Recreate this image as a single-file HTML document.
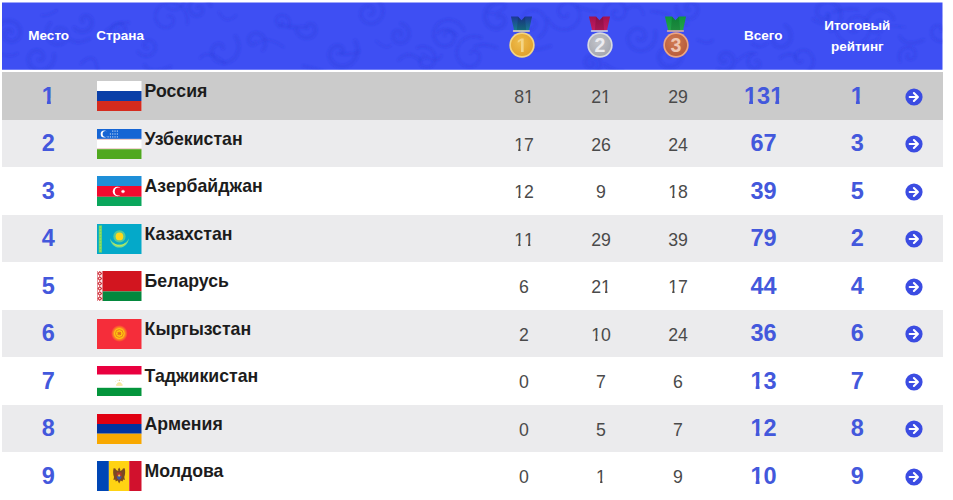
<!DOCTYPE html>
<html lang="ru"><head><meta charset="utf-8"><title>Медальный зачёт</title>
<style>
html,body{margin:0;padding:0;background:#fff;}
body{width:953px;height:500px;overflow:hidden;position:relative;font-family:"Liberation Sans",sans-serif;}
.hdr{position:absolute;left:2px;top:2px;width:940.5px;height:67.7px;background:#3e4ff3;overflow:hidden;clip-path:inset(0.5px 0 0 0);}
.hdr svg.bg{position:absolute;left:0;top:0;}
.h{position:absolute;color:#fff;font-weight:bold;font-size:13.5px;line-height:16px;text-align:center;white-space:nowrap;}
.medal{position:absolute;display:block;width:28px;height:46px;}
.medal svg{display:block;}
.row{position:absolute;left:2px;width:940.5px;background:#fff;}
.row.alt{background:#ebebed;}
.row.hov{background:#cbcbcb;}
.in{position:absolute;left:0;width:100%;height:46px;}
.rank{position:absolute;left:16.3px;width:60px;top:9.5px;text-align:center;font-weight:bold;font-size:23.5px;line-height:26px;color:#4358dc;}
.flag{position:absolute;left:95px;top:7.8px;width:44.5px;height:30px;display:block;}
.flag svg{display:block;}
.name{position:absolute;left:142.6px;top:7.6px;font-weight:bold;font-size:17.7px;line-height:21px;color:#1c1c1c;white-space:nowrap;}
.num{position:absolute;width:60px;top:13.6px;text-align:center;font-size:17.7px;line-height:21px;color:#4a4a4a;}
.tot{position:absolute;width:80px;top:9.5px;text-align:center;font-weight:bold;font-size:23.5px;line-height:26px;color:#4358dc;}
.go{position:absolute;left:903.2px;top:14.1px;width:18px;height:18px;display:block;}
.go svg{display:block;}
.o{display:inline-block;clip-path:polygon(0 0,100% 0,100% 0.64em,0.385em 0.64em,0.385em 100%,0.22em 100%,0.22em 0.64em,0 0.64em);}
.p{display:inline-block;clip-path:polygon(0 0,100% 0,100% 0.64em,0.362em 0.64em,0.362em 100%,0.228em 100%,0.228em 0.64em,0 0.64em);}
</style></head>
<body>
<div class="hdr">
<svg class="bg" width="941" height="68" viewBox="0 0 941 68"><defs><filter id="sb" x="-5%" y="-20%" width="110%" height="140%"><feGaussianBlur stdDeviation="0.9"/></filter></defs><g fill="none" stroke="#2536d6" stroke-opacity="0.24" stroke-linecap="round" filter="url(#sb)"><path d="M-6.5 35.9 L-6.8 33.2 L-6.6 30.6 L-6.0 28.1 L-5.0 25.8 L-3.6 23.8 L-2.0 22.0 L-0.0 20.7 L2.1 19.6 L4.3 19.0 L6.5 18.8 L8.7 19.0 L10.8 19.6 L12.7 20.5 L14.4 21.7 L15.8 23.1 L16.9 24.8 L17.7 26.6 L18.1 28.4 L18.2 30.2 L18.0 32.0 L17.5 33.7 L16.7 35.2 L15.7 36.5 L14.4 37.6 L13.1 38.4 L11.7 39.0 L10.2 39.3 L8.8 39.3 L7.4 39.0 L6.1 38.6 L5.0 37.9 L4.0 37.0 L3.3 36.1 L2.7 35.0 L2.4 33.9 L2.3 32.9 L2.4 31.8 L2.6 30.8 L3.0 30.0 L3.6 29.2 L4.2 28.6 L4.9 28.2 L5.7 27.9 L6.4 27.8 L7.1 27.8 L7.8 28.0 L8.3 28.2 L8.8 28.6 L9.1 29.0 L9.4 29.4 L9.5 29.9 L9.5 30.3" stroke-width="4.3"/><path d="M-0.7 52.2q10.8 3.2 16.2 -0.9" stroke-width="2.1"/><path d="M52.2 52.3 L52.3 55.1 L51.9 57.8 L51.0 60.3 L49.7 62.6 L48.1 64.6 L46.2 66.3 L44.0 67.5 L41.8 68.3 L39.4 68.7 L37.1 68.7 L34.9 68.3 L32.9 67.5 L31.0 66.4 L29.5 65.0 L28.2 63.4 L27.3 61.7 L26.7 59.8 L26.5 58.0 L26.6 56.2 L27.0 54.5 L27.7 52.9 L28.6 51.5 L29.7 50.4 L31.0 49.5 L32.4 48.9 L33.8 48.5 L35.1 48.5 L36.5 48.6 L37.7 49.0 L38.8 49.6 L39.7 50.4 L40.4 51.2 L40.9 52.1 L41.2 53.1 L41.3 54.1 L41.3 55.0 L41.0 55.8 L40.7 56.5 L40.2 57.1 L39.6 57.6 L39.1 57.9 L38.5 58.0 L37.9 58.1 L37.4 58.0 L37.0 57.7" stroke-width="3.8"/><path d="M39.9 13.4q6.2 0.8 14.7 -5.0" stroke-width="2.2"/><path d="M48.3 21.3 L46.7 23.2 L45.5 25.3 L44.8 27.5 L44.4 29.8 L44.5 32.0 L44.9 34.2 L45.7 36.2 L46.9 38.0 L48.3 39.6 L49.9 40.8 L51.7 41.7 L53.6 42.3 L55.5 42.5 L57.3 42.4 L59.1 42.0 L60.7 41.2 L62.2 40.2 L63.4 39.0 L64.4 37.7 L65.0 36.2 L65.4 34.7 L65.5 33.1 L65.3 31.6 L64.9 30.3 L64.3 29.0 L63.4 27.9 L62.4 27.0 L61.3 26.4 L60.2 25.9 L59.0 25.7 L57.8 25.7 L56.7 25.9 L55.7 26.3 L54.9 26.9 L54.1 27.6 L53.6 28.3 L53.2 29.1 L53.0 30.0 L52.9 30.8 L53.0 31.6 L53.3 32.3 L53.6 32.9 L54.0 33.4 L54.5 33.8 L55.1 34.0 L55.6 34.1 L56.1 34.2 L56.6 34.1 L56.9 33.9 L57.3 33.6" stroke-width="3.4"/><path d="M61.6 31.4q8.8 13.9 25.9 5.4" stroke-width="3.1"/><path d="M72.3 26.0 L73.9 27.4 L75.8 28.5 L77.7 29.2 L79.7 29.5 L81.7 29.4 L83.5 29.0 L85.2 28.3 L86.7 27.3 L87.9 26.1 L88.9 24.8 L89.5 23.3 L89.9 21.8 L90.0 20.3 L89.8 18.9 L89.3 17.6 L88.7 16.4 L87.9 15.5 L86.9 14.7 L85.9 14.2 L84.9 13.9 L83.8 13.8 L82.8 13.9 L82.0 14.2 L81.2 14.6 L80.6 15.1 L80.1 15.7 L79.8 16.4 L79.7 17.0 L79.7 17.7 L79.8 18.2 L80.0 18.7 L80.4 19.0 L80.7 19.2" stroke-width="4.2"/><path d="M79.0 61.5q14.5 -14.0 16.5 6.6" stroke-width="2.6"/><path d="M112.7 36.6 L111.5 35.5 L110.4 34.1 L109.7 32.6 L109.2 31.0 L109.1 29.4 L109.2 27.9 L109.6 26.4 L110.2 25.0 L111.1 23.8 L112.1 22.8 L113.3 22.1 L114.5 21.5 L115.8 21.2 L117.1 21.2 L118.4 21.3 L119.5 21.7 L120.6 22.3 L121.5 23.1 L122.2 23.9 L122.8 24.9 L123.1 25.9 L123.3 26.9 L123.2 27.9 L123.0 28.8 L122.6 29.7 L122.1 30.4 L121.5 31.1 L120.8 31.5 L120.1 31.8 L119.4 32.0 L118.6 32.0 L117.9 31.9 L117.3 31.7 L116.8 31.4 L116.3 31.0 L116.0 30.5 L115.8 30.0 L115.7 29.5 L115.6 29.1 L115.7 28.6 L115.9 28.2 L116.1 27.9 L116.4 27.7 L116.7 27.6 L116.9 27.5" stroke-width="2.9"/><path d="M104.3 28.6q15.2 -10.2 22.5 -7.8" stroke-width="2.6"/><path d="M136.0 49.6 L137.2 51.1 L138.7 52.3 L140.3 53.1 L142.1 53.7 L143.8 54.0 L145.6 53.9 L147.2 53.5 L148.8 52.9 L150.1 52.0 L151.3 50.9 L152.2 49.7 L152.9 48.3 L153.3 46.9 L153.4 45.5 L153.3 44.1 L152.9 42.8 L152.4 41.6 L151.6 40.6 L150.7 39.8 L149.7 39.1 L148.7 38.7 L147.6 38.4 L146.5 38.4 L145.5 38.6 L144.5 38.9 L143.7 39.4 L143.0 40.0 L142.5 40.7 L142.1 41.4 L141.8 42.2 L141.8 42.9 L141.8 43.7 L142.0 44.3 L142.3 44.9 L142.7 45.4 L143.2 45.8 L143.6 46.0 L144.1 46.2 L144.6 46.2 L145.0 46.1 L145.4 46.0 L145.7 45.7 L145.9 45.5" stroke-width="3.1"/><path d="M142.7 63.4q6.0 10.2 25.7 1.5" stroke-width="3.6"/><path d="M185.2 21.7 L185.4 18.2 L185.0 14.8 L184.1 11.6 L182.6 8.7 L180.6 6.1 L178.3 4.0 L175.7 2.3 L172.9 1.2 L170.0 0.6 L167.1 0.5 L164.3 0.9 L161.7 1.8 L159.4 3.1 L157.4 4.8 L155.8 6.7 L154.5 8.9 L153.7 11.2 L153.4 13.5 L153.4 15.7 L153.9 17.9 L154.7 19.9 L155.8 21.6 L157.2 23.1 L158.7 24.2 L160.4 25.1 L162.1 25.5 L163.9 25.7 L165.5 25.5 L167.1 25.1 L168.4 24.4 L169.6 23.5 L170.5 22.4 L171.2 21.2 L171.6 20.0 L171.8 18.8 L171.7 17.7 L171.4 16.7 L171.0 15.8 L170.4 15.0 L169.8 14.4 L169.0 14.0 L168.3 13.8 L167.6 13.8 L166.9 13.9 L166.4 14.1" stroke-width="2.6"/><path d="M164.3 4.6q12.1 9.2 18.6 -6.8" stroke-width="2.2"/><path d="M208.7 3.5 L207.7 1.4 L206.4 -0.4 L204.7 -1.9 L202.9 -3.1 L200.9 -3.9 L198.9 -4.3 L196.9 -4.4 L194.9 -4.1 L193.1 -3.4 L191.4 -2.5 L190.0 -1.3 L188.8 0.1 L187.9 1.6 L187.4 3.2 L187.1 4.9 L187.2 6.5 L187.5 8.1 L188.1 9.5 L188.9 10.8 L189.9 11.8 L191.1 12.7 L192.3 13.2 L193.6 13.6 L194.8 13.7 L196.1 13.5 L197.2 13.2 L198.2 12.7 L199.1 12.0 L199.8 11.2 L200.3 10.3 L200.6 9.4 L200.7 8.5 L200.7 7.6 L200.5 6.8 L200.2 6.1 L199.7 5.4 L199.2 5.0 L198.6 4.6 L198.0 4.4 L197.4 4.4 L196.9 4.4 L196.4 4.6 L196.0 4.8 L195.7 5.1 L195.5 5.4" stroke-width="3.4"/><path d="M198.2 56.0q7.8 -9.7 24.9 5.1" stroke-width="2.2"/><path d="M233.4 34.3 L235.1 37.3 L236.2 40.5 L236.7 43.7 L236.6 46.8 L236.0 49.9 L234.8 52.6 L233.2 55.1 L231.3 57.2 L229.0 58.8 L226.6 60.0 L224.1 60.6 L221.6 60.9 L219.2 60.6 L217.0 59.9 L214.9 58.9 L213.2 57.6 L211.8 56.0 L210.8 54.3 L210.1 52.5 L209.8 50.6 L209.9 48.8 L210.2 47.2 L210.9 45.7 L211.7 44.4 L212.8 43.4 L213.9 42.7 L215.1 42.2 L216.3 42.0 L217.5 42.0 L218.5 42.3 L219.4 42.7 L220.1 43.3 L220.6 44.0 L221.0 44.7 L221.1 45.4 L221.0 46.0" stroke-width="3.6"/><path d="M217.0 10.2q6.4 13.0 16.9 3.3" stroke-width="2.3"/><path d="M260.9 48.1 L262.1 46.3 L262.8 44.4 L263.3 42.4 L263.3 40.4 L263.0 38.5 L262.4 36.7 L261.5 35.1 L260.4 33.8 L259.1 32.7 L257.6 31.8 L256.1 31.3 L254.6 31.0 L253.0 31.1 L251.6 31.4 L250.3 31.9 L249.1 32.7 L248.2 33.6 L247.5 34.6 L246.9 35.7 L246.6 36.8 L246.6 37.9 L246.7 39.0 L247.0 39.9 L247.5 40.8 L248.1 41.5 L248.7 42.0 L249.4 42.4 L250.2 42.6 L250.9 42.7 L251.6 42.6 L252.1 42.4 L252.6 42.0 L253.0 41.7 L253.3 41.3 L253.4 40.8 L253.4 40.4" stroke-width="3.4"/><path d="M256.6 41.0q6.7 -8.1 25.0 4.0" stroke-width="1.9"/><path d="M286.9 25.2 L287.5 23.6 L287.8 22.0 L287.8 20.4 L287.5 18.8 L286.9 17.4 L286.2 16.2 L285.2 15.1 L284.1 14.2 L282.9 13.6 L281.6 13.2 L280.4 13.0 L279.1 13.1 L277.9 13.4 L276.9 13.9 L275.9 14.5 L275.2 15.3 L274.6 16.2 L274.2 17.1 L273.9 18.1 L273.9 19.0 L274.0 19.9 L274.3 20.7 L274.7 21.5 L275.3 22.1 L275.9 22.5 L276.5 22.9 L277.2 23.0 L277.8 23.1 L278.4 23.0 L279.0 22.9 L279.4 22.6 L279.8 22.2 L280.1 21.9 L280.3 21.5 L280.3 21.1 L280.3 20.7 L280.2 20.4 L280.0 20.1" stroke-width="2.5"/><path d="M277.5 23.9q13.3 0.6 25.4 1.4" stroke-width="3.5"/><path d="M294.2 27.4 L294.9 29.5 L296.0 31.3 L297.3 32.8 L298.9 34.1 L300.6 35.0 L302.4 35.6 L304.2 35.9 L306.0 35.8 L307.6 35.4 L309.2 34.7 L310.5 33.9 L311.6 32.8 L312.5 31.6 L313.0 30.3 L313.4 28.9 L313.5 27.6 L313.3 26.4 L312.9 25.2 L312.4 24.2 L311.7 23.4 L310.9 22.7 L310.0 22.2 L309.1 22.0 L308.2 21.9 L307.4 22.0 L306.7 22.2 L306.1 22.6 L305.6 23.0 L305.2 23.5 L305.0 24.0 L304.9 24.6 L305.0 25.0 L305.1 25.5" stroke-width="4.0"/><path d="M301.4 64.0q6.8 1.3 22.8 6.4" stroke-width="3.1"/><path d="M353.2 39.3 L354.6 42.4 L355.3 45.6 L355.5 48.8 L355.0 52.0 L354.1 54.9 L352.6 57.6 L350.8 59.8 L348.6 61.7 L346.2 63.1 L343.6 64.0 L341.0 64.4 L338.5 64.3 L336.0 63.8 L333.8 62.8 L331.9 61.6 L330.2 60.0 L329.0 58.2 L328.1 56.3 L327.6 54.3 L327.5 52.4 L327.7 50.5 L328.3 48.8 L329.2 47.3 L330.2 46.0 L331.5 45.0 L332.8 44.3 L334.2 43.9 L335.5 43.8 L336.8 43.9 L338.0 44.3 L339.0 44.8 L339.8 45.5 L340.4 46.3 L340.8 47.2 L341.0 48.0 L341.0 48.8 L340.8 49.5 L340.5 50.1 L340.1 50.6" stroke-width="4.3"/><path d="M335.5 51.4q14.6 2.0 21.5 -1.9" stroke-width="2.8"/><path d="M365.3 -5.4 L368.1 -5.3 L370.8 -4.7 L373.3 -3.6 L375.6 -2.1 L377.5 -0.3 L379.0 1.8 L380.2 4.1 L380.8 6.5 L381.1 8.9 L380.9 11.3 L380.2 13.6 L379.2 15.7 L377.9 17.5 L376.3 19.1 L374.5 20.3 L372.6 21.1 L370.5 21.6 L368.5 21.7 L366.5 21.4 L364.7 20.8 L363.0 19.9 L361.6 18.8 L360.4 17.4 L359.5 15.9 L358.9 14.3 L358.7 12.7 L358.7 11.0 L359.0 9.5 L359.6 8.1 L360.3 6.9 L361.3 5.8 L362.4 5.0 L363.6 4.4 L364.8 4.0 L366.1 3.9 L367.3 4.0 L368.4 4.4 L369.4 4.9 L370.2 5.5 L370.9 6.3 L371.4 7.1 L371.7 8.0 L371.8 8.8 L371.8 9.7 L371.6 10.4 L371.3 11.1 L370.8 11.7 L370.3 12.1 L369.8 12.4 L369.3 12.6 L368.7 12.6 L368.3 12.6 L367.8 12.4" stroke-width="3.1"/><path d="M374.1 38.9q10.4 9.5 15.0 4.0" stroke-width="1.9"/><path d="M399.3 21.6 L401.1 22.4 L402.8 23.4 L404.3 24.7 L405.4 26.2 L406.3 27.9 L406.8 29.6 L407.0 31.4 L406.9 33.2 L406.5 34.9 L405.8 36.4 L404.9 37.8 L403.8 38.9 L402.5 39.8 L401.1 40.5 L399.7 40.8 L398.2 40.9 L396.8 40.8 L395.5 40.4 L394.3 39.8 L393.2 39.0 L392.4 38.1 L391.7 37.0 L391.3 35.9 L391.1 34.8 L391.0 33.7 L391.2 32.6 L391.6 31.6 L392.1 30.7 L392.7 30.0 L393.5 29.4 L394.3 29.0 L395.1 28.8 L395.9 28.7 L396.7 28.8 L397.4 29.0 L398.1 29.3 L398.6 29.7 L399.0 30.2 L399.3 30.7 L399.5 31.3 L399.6 31.8 L399.5 32.3 L399.4 32.7 L399.2 33.1 L398.9 33.4 L398.6 33.6 L398.3 33.7" stroke-width="3.8"/><path d="M396.8 57.8q9.7 -10.0 21.3 0.3" stroke-width="3.2"/><path d="M415.3 45.6 L417.7 44.8 L420.2 44.5 L422.6 44.6 L425.0 45.2 L427.1 46.1 L428.9 47.4 L430.5 49.0 L431.7 50.7 L432.6 52.6 L433.1 54.6 L433.2 56.5 L433.0 58.4 L432.4 60.1 L431.6 61.7 L430.5 63.0 L429.3 64.1 L427.9 64.9 L426.4 65.4 L425.0 65.7 L423.6 65.6 L422.2 65.3 L421.0 64.8 L420.0 64.1 L419.2 63.3 L418.6 62.3 L418.1 61.4 L418.0 60.4 L418.0 59.4 L418.1 58.5 L418.5 57.8 L418.9 57.1 L419.5 56.6 L420.1 56.3 L420.7 56.1 L421.2 56.1 L421.8 56.2 L422.2 56.4" stroke-width="2.7"/><path d="M420.7 52.4q15.1 10.6 18.6 1.3" stroke-width="2.4"/><path d="M462.1 28.1 L460.5 25.3 L458.6 22.9 L456.2 20.9 L453.6 19.3 L450.8 18.3 L447.9 17.8 L445.0 17.8 L442.3 18.4 L439.7 19.4 L437.4 20.8 L435.4 22.5 L433.8 24.6 L432.6 26.8 L431.9 29.2 L431.6 31.6 L431.7 33.9 L432.3 36.2 L433.2 38.2 L434.4 40.0 L435.9 41.6 L437.6 42.8 L439.5 43.6 L441.4 44.1 L443.3 44.2 L445.1 44.0 L446.8 43.5 L448.4 42.7 L449.7 41.6 L450.8 40.4 L451.6 39.0 L452.1 37.6 L452.4 36.1 L452.4 34.7 L452.1 33.4 L451.6 32.2 L450.9 31.1 L450.1 30.3 L449.2 29.6 L448.2 29.2 L447.2 29.0 L446.2 28.9 L445.3 29.1 L444.5 29.4 L443.8 29.8 L443.2 30.4 L442.8 31.0 L442.6 31.6 L442.5 32.2 L442.5 32.8 L442.7 33.3" stroke-width="2.9"/><path d="M435.5 31.0q8.8 -8.0 19.0 2.0" stroke-width="2.7"/><path d="M479.2 35.5 L475.9 34.6 L472.5 34.2 L469.2 34.4 L466.1 35.2 L463.2 36.6 L460.7 38.3 L458.5 40.5 L456.8 42.9 L455.6 45.5 L454.9 48.2 L454.7 50.9 L455.0 53.6 L455.8 56.1 L456.9 58.3 L458.4 60.3 L460.1 61.9 L462.1 63.1 L464.2 63.9 L466.3 64.4 L468.4 64.4 L470.4 64.1 L472.2 63.4 L473.8 62.5 L475.2 61.3 L476.3 59.9 L477.0 58.4 L477.5 56.9 L477.7 55.4 L477.6 53.9 L477.2 52.6 L476.6 51.4 L475.8 50.4 L475.0 49.6 L474.0 49.1 L473.0 48.8 L472.0 48.6 L471.1 48.7 L470.3 49.0 L469.6 49.4 L469.1 49.9 L468.7 50.4 L468.5 51.0" stroke-width="2.9"/><path d="M472.9 44.7q8.8 -4.1 21.8 1.0" stroke-width="3.0"/><path d="M501.3 -0.1 L498.3 -0.3 L495.3 0.0 L492.6 0.8 L490.0 2.1 L487.8 3.8 L486.0 5.7 L484.6 7.9 L483.6 10.3 L483.1 12.7 L483.0 15.2 L483.3 17.5 L484.1 19.6 L485.2 21.6 L486.5 23.2 L488.1 24.5 L489.9 25.5 L491.7 26.1 L493.5 26.4 L495.3 26.4 L497.0 26.0 L498.5 25.3 L499.8 24.4 L500.9 23.4 L501.7 22.2 L502.3 20.9 L502.6 19.6 L502.6 18.4 L502.4 17.2 L502.0 16.2 L501.5 15.3 L500.8 14.6 L500.0 14.1 L499.3 13.7 L498.5 13.6 L497.7 13.6 L497.1 13.8 L496.6 14.1 L496.1 14.5" stroke-width="4.6"/><path d="M485.6 10.5q11.4 3.9 18.4 -6.8" stroke-width="2.2"/><path d="M536.8 35.5 L539.2 33.8 L541.2 31.6 L542.7 29.2 L543.8 26.7 L544.4 24.0 L544.5 21.3 L544.1 18.7 L543.3 16.2 L542.1 14.0 L540.5 12.0 L538.7 10.5 L536.6 9.3 L534.4 8.5 L532.2 8.1 L530.0 8.1 L527.9 8.5 L525.9 9.3 L524.2 10.4 L522.7 11.7 L521.5 13.3 L520.7 14.9 L520.1 16.7 L519.9 18.5 L520.1 20.2 L520.5 21.8 L521.2 23.3 L522.1 24.5 L523.2 25.6 L524.4 26.4 L525.7 26.9 L527.0 27.2 L528.3 27.2 L529.6 27.0 L530.7 26.6 L531.6 26.0 L532.4 25.3 L533.1 24.4 L533.5 23.5 L533.7 22.6 L533.8 21.8 L533.6 20.9 L533.4 20.2 L533.0 19.6 L532.5 19.1 L532.0 18.8 L531.5 18.6 L530.9 18.5 L530.4 18.5" stroke-width="2.9"/><path d="M525.2 45.8q11.2 3.2 23.1 -1.7" stroke-width="3.2"/><path d="M545.7 16.8 L547.3 19.7 L549.4 22.3 L551.8 24.4 L554.5 26.0 L557.4 27.1 L560.4 27.6 L563.4 27.7 L566.3 27.2 L569.0 26.2 L571.4 24.8 L573.5 23.0 L575.2 21.0 L576.4 18.7 L577.3 16.3 L577.7 13.8 L577.6 11.4 L577.1 9.1 L576.3 6.9 L575.1 5.0 L573.6 3.4 L571.9 2.1 L570.1 1.1 L568.2 0.6 L566.3 0.3 L564.4 0.5 L562.6 0.9 L561.0 1.6 L559.6 2.6 L558.5 3.8 L557.6 5.1 L557.0 6.5 L556.6 7.9 L556.6 9.3 L556.8 10.6 L557.2 11.8 L557.8 12.9 L558.5 13.8 L559.4 14.5 L560.3 15.0 L561.3 15.2 L562.2 15.3 L563.1 15.2 L563.9 15.0 L564.5 14.6 L565.0 14.1 L565.4 13.5 L565.6 13.0 L565.7 12.4" stroke-width="2.7"/><path d="M574.9 4.4q11.5 4.3 20.0 5.1" stroke-width="2.4"/><path d="M591.5 70.8 L593.1 70.1 L594.6 69.2 L595.8 68.0 L596.8 66.6 L597.5 65.1 L597.9 63.6 L598.0 62.0 L597.9 60.5 L597.5 59.0 L596.9 57.7 L596.0 56.5 L595.0 55.5 L593.9 54.7 L592.6 54.2 L591.3 53.8 L590.0 53.8 L588.8 53.9 L587.6 54.3 L586.5 54.8 L585.6 55.5 L584.8 56.4 L584.2 57.3 L583.8 58.3 L583.6 59.4 L583.5 60.4 L583.7 61.4 L584.0 62.3 L584.5 63.1 L585.0 63.8 L585.7 64.4 L586.5 64.8 L587.2 65.1 L588.0 65.2 L588.8 65.2 L589.5 65.0 L590.2 64.7 L590.7 64.3 L591.2 63.9 L591.5 63.4 L591.8 62.8 L591.9 62.3 L591.9 61.8 L591.8 61.3 L591.7 60.8 L591.4 60.5 L591.1 60.2 L590.8 59.9 L590.5 59.8 L590.1 59.7 L589.8 59.8 L589.6 59.8" stroke-width="4.4"/><path d="M602.7 62.6q11.4 8.1 17.8 6.6" stroke-width="3.3"/><path d="M601.0 11.7 L601.3 9.3 L602.0 7.1 L603.1 5.0 L604.5 3.2 L606.1 1.7 L608.0 0.6 L609.9 -0.2 L612.0 -0.6 L614.0 -0.7 L616.0 -0.4 L617.8 0.3 L619.4 1.2 L620.9 2.4 L622.0 3.7 L622.9 5.3 L623.4 6.9 L623.7 8.5 L623.7 10.1 L623.3 11.6 L622.8 13.0 L622.0 14.3 L621.0 15.3 L619.9 16.1 L618.7 16.7 L617.5 17.0 L616.3 17.1 L615.1 17.0 L614.0 16.7 L613.1 16.2 L612.3 15.6 L611.6 14.8 L611.1 14.0 L610.8 13.2 L610.7 12.3 L610.7 11.5 L610.9 10.8 L611.2 10.1 L611.6 9.6 L612.1 9.2 L612.6 8.9 L613.1 8.8 L613.6 8.8 L614.1 8.8 L614.5 9.0" stroke-width="2.3"/><path d="M623.5 7.8q14.0 -9.2 18.0 4.6" stroke-width="2.1"/><path d="M653.2 29.2 L653.6 32.1 L653.5 35.1 L653.0 37.9 L651.9 40.5 L650.5 42.9 L648.6 44.9 L646.5 46.5 L644.2 47.7 L641.8 48.4 L639.3 48.7 L636.8 48.6 L634.5 48.0 L632.3 47.1 L630.4 45.8 L628.8 44.2 L627.6 42.4 L626.7 40.5 L626.1 38.5 L626.0 36.4 L626.2 34.5 L626.7 32.6 L627.6 30.9 L628.7 29.5 L630.0 28.3 L631.5 27.3 L633.0 26.7 L634.6 26.4 L636.2 26.4 L637.7 26.6 L639.1 27.1 L640.3 27.9 L641.3 28.8 L642.1 29.8 L642.7 30.9 L643.0 32.1 L643.2 33.2 L643.1 34.3 L642.8 35.4 L642.3 36.3 L641.7 37.0 L641.1 37.6 L640.3 38.0 L639.6 38.3 L638.8 38.4 L638.1 38.3 L637.4 38.1 L636.9 37.8 L636.5 37.5 L636.2 37.0 L636.0 36.6" stroke-width="3.4"/><path d="M649.8 9.2q8.2 0.7 17.5 3.7" stroke-width="2.9"/><path d="M680.1 48.9 L680.3 51.6 L680.0 54.2 L679.3 56.6 L678.2 58.8 L676.7 60.7 L675.0 62.3 L673.1 63.5 L671.0 64.4 L668.9 64.8 L666.8 64.9 L664.8 64.6 L662.9 64.0 L661.2 63.0 L659.7 61.8 L658.6 60.4 L657.7 58.9 L657.1 57.3 L656.9 55.7 L656.9 54.1 L657.3 52.6 L657.8 51.3 L658.6 50.1 L659.5 49.1 L660.6 48.4 L661.7 47.9 L662.8 47.6 L664.0 47.5 L665.0 47.7 L666.0 48.0 L666.8 48.5 L667.4 49.1 L667.9 49.8 L668.3 50.5 L668.4 51.2 L668.4 51.9 L668.3 52.5 L668.0 53.0 L667.7 53.4 L667.3 53.7" stroke-width="4.3"/><path d="M668.6 22.3q7.4 1.3 17.3 -0.0" stroke-width="2.5"/><path d="M674.3 5.0 L674.5 7.3 L675.1 9.4 L676.1 11.4 L677.4 13.1 L678.9 14.5 L680.6 15.7 L682.5 16.5 L684.4 16.9 L686.3 17.0 L688.2 16.8 L689.9 16.2 L691.5 15.4 L692.9 14.3 L694.0 13.0 L694.9 11.6 L695.4 10.1 L695.7 8.6 L695.8 7.1 L695.5 5.6 L695.0 4.3 L694.3 3.1 L693.4 2.1 L692.4 1.3 L691.3 0.7 L690.2 0.3 L689.1 0.2 L688.0 0.3 L686.9 0.5 L686.0 0.9 L685.2 1.5 L684.5 2.2 L684.1 2.9 L683.7 3.7 L683.6 4.5 L683.6 5.2 L683.7 5.9 L684.0 6.5 L684.3 7.1 L684.7 7.5 L685.2 7.8 L685.7 7.9 L686.2 8.0 L686.6 7.9 L687.0 7.8" stroke-width="3.2"/><path d="M695.8 37.8q10.9 5.3 14.8 0.6" stroke-width="2.5"/><path d="M716.3 67.8 L718.3 68.6 L720.3 68.9 L722.3 68.9 L724.3 68.6 L726.1 67.9 L727.7 66.9 L729.1 65.7 L730.2 64.2 L731.0 62.7 L731.5 61.1 L731.7 59.4 L731.6 57.8 L731.3 56.2 L730.6 54.8 L729.8 53.6 L728.8 52.6 L727.6 51.8 L726.4 51.2 L725.1 50.9 L723.8 50.9 L722.6 51.0 L721.5 51.4 L720.4 51.9 L719.6 52.6 L718.9 53.4 L718.4 54.3 L718.1 55.3 L718.0 56.2 L718.0 57.1 L718.2 57.9 L718.6 58.6 L719.0 59.2 L719.6 59.7 L720.2 60.0 L720.8 60.3 L721.4 60.3 L721.9 60.3 L722.4 60.1 L722.8 59.9 L723.1 59.6 L723.4 59.3 L723.5 58.9" stroke-width="4.4"/><path d="M734.9 59.2q11.2 -11.0 19.0 -7.5" stroke-width="2.3"/><path d="M750.3 52.1 L748.9 53.0 L747.8 54.2 L746.9 55.6 L746.4 57.0 L746.0 58.4 L746.0 59.9 L746.2 61.3 L746.7 62.6 L747.3 63.8 L748.2 64.8 L749.1 65.5 L750.2 66.1 L751.3 66.5 L752.4 66.6 L753.5 66.6 L754.5 66.3 L755.4 65.9 L756.2 65.3 L756.9 64.6 L757.3 63.9 L757.7 63.1 L757.8 62.3 L757.8 61.6 L757.6 60.9 L757.4 60.2 L757.0 59.7 L756.6 59.3 L756.1 59.0 L755.6 58.8 L755.1 58.7 L754.6 58.8 L754.2 58.9 L753.9 59.1 L753.7 59.4 L753.5 59.7" stroke-width="3.0"/><path d="M749.9 41.2q7.0 6.5 15.5 0.2" stroke-width="2.3"/><path d="M783.3 23.4 L785.2 24.9 L786.8 26.7 L787.9 28.7 L788.7 30.9 L789.1 33.1 L789.1 35.2 L788.7 37.3 L787.9 39.2 L786.9 40.9 L785.5 42.4 L784.0 43.5 L782.4 44.4 L780.7 44.9 L779.0 45.1 L777.3 44.9 L775.7 44.5 L774.3 43.9 L773.0 43.0 L772.0 41.9 L771.2 40.7 L770.7 39.5 L770.4 38.2 L770.4 36.9 L770.6 35.7 L771.0 34.6 L771.5 33.7 L772.3 32.9 L773.1 32.3 L773.9 31.8 L774.8 31.6 L775.6 31.6 L776.4 31.7 L777.2 31.9 L777.8 32.3 L778.2 32.7 L778.6 33.3 L778.8 33.8 L778.9 34.3 L778.8 34.8 L778.7 35.2" stroke-width="3.7"/><path d="M778.2 55.8q11.3 -7.9 16.6 0.7" stroke-width="2.9"/><path d="M792.9 71.8 L795.7 72.4 L798.4 72.4 L801.1 71.9 L803.6 71.0 L805.8 69.7 L807.7 68.1 L809.2 66.2 L810.3 64.1 L811.1 61.9 L811.3 59.6 L811.2 57.5 L810.7 55.4 L809.9 53.5 L808.7 51.9 L807.3 50.5 L805.8 49.4 L804.1 48.7 L802.4 48.3 L800.7 48.3 L799.1 48.5 L797.6 49.0 L796.3 49.8 L795.2 50.7 L794.4 51.8 L793.8 53.0 L793.4 54.2 L793.3 55.4 L793.5 56.5 L793.8 57.5 L794.3 58.4 L794.9 59.1 L795.6 59.7 L796.3 60.1 L797.1 60.2 L797.8 60.2 L798.5 60.1 L799.0 59.8 L799.5 59.5 L799.8 59.1" stroke-width="3.0"/><path d="M811.1 17.1q16.0 10.9 15.6 -4.2" stroke-width="3.1"/><path d="M829.0 28.7 L831.7 27.1 L834.1 25.1 L836.1 22.8 L837.5 20.2 L838.5 17.4 L838.9 14.6 L838.8 11.8 L838.3 9.1 L837.3 6.7 L835.9 4.5 L834.2 2.7 L832.2 1.2 L830.1 0.2 L827.9 -0.5 L825.6 -0.7 L823.5 -0.5 L821.4 0.1 L819.6 1.0 L818.0 2.1 L816.7 3.5 L815.7 5.1 L815.1 6.7 L814.7 8.4 L814.7 10.0 L815.0 11.6 L815.5 13.0 L816.3 14.2 L817.2 15.2 L818.3 16.0 L819.4 16.5 L820.5 16.8 L821.6 16.8 L822.7 16.7 L823.6 16.3 L824.4 15.8 L825.0 15.3 L825.4 14.6 L825.7 13.9 L825.8 13.2 L825.7 12.6 L825.5 12.1" stroke-width="3.7"/><path d="M831.8 9.8q11.7 -4.0 23.9 -2.2" stroke-width="3.1"/><path d="M833.7 27.5 L834.8 30.9 L836.3 33.9 L838.4 36.6 L840.9 38.8 L843.6 40.5 L846.6 41.7 L849.7 42.3 L852.7 42.4 L855.7 41.9 L858.5 41.0 L861.0 39.5 L863.2 37.7 L864.9 35.6 L866.3 33.3 L867.2 30.8 L867.6 28.3 L867.6 25.8 L867.1 23.3 L866.2 21.1 L865.0 19.1 L863.5 17.4 L861.7 16.1 L859.8 15.1 L857.8 14.5 L855.8 14.3 L853.8 14.4 L852.0 14.9 L850.3 15.6 L848.9 16.7 L847.7 17.9 L846.7 19.3 L846.1 20.7 L845.7 22.3 L845.7 23.7 L845.9 25.1 L846.3 26.4 L847.0 27.6 L847.8 28.5 L848.7 29.2 L849.7 29.7 L850.8 30.0 L851.8 30.1 L852.7 30.0 L853.6 29.7 L854.3 29.3 L854.9 28.8 L855.3 28.2 L855.6 27.6 L855.7 27.0 L855.7 26.4" stroke-width="2.3"/><path d="M860.9 40.8q15.1 -0.5 16.3 -6.2" stroke-width="2.1"/><path d="M891.7 16.9 L890.3 14.3 L888.5 12.1 L886.4 10.3 L884.0 9.0 L881.5 8.1 L878.9 7.7 L876.3 7.7 L873.9 8.3 L871.6 9.2 L869.6 10.5 L867.9 12.0 L866.5 13.9 L865.6 15.9 L865.0 17.9 L864.8 20.0 L865.0 22.0 L865.5 24.0 L866.3 25.7 L867.4 27.2 L868.8 28.4 L870.3 29.4 L871.8 30.0 L873.4 30.3 L875.0 30.3 L876.5 30.0 L877.9 29.5 L879.1 28.8 L880.1 27.9 L880.9 26.8 L881.4 25.7 L881.7 24.6 L881.8 23.4 L881.7 22.4 L881.3 21.4 L880.9 20.6 L880.3 19.9 L879.6 19.4 L878.9 19.0 L878.1 18.9 L877.4 18.9 L876.8 19.0 L876.3 19.2 L875.8 19.6 L875.5 20.0" stroke-width="3.3"/><path d="M883.5 23.6q10.7 0.4 19.2 1.6" stroke-width="1.8"/><path d="M898.2 59.5 L897.5 57.7 L897.1 55.8 L897.0 54.0 L897.3 52.2 L897.9 50.6 L898.7 49.0 L899.7 47.7 L901.0 46.7 L902.4 45.9 L903.8 45.3 L905.3 45.1 L906.8 45.1 L908.2 45.3 L909.5 45.8 L910.7 46.5 L911.7 47.4 L912.5 48.4 L913.0 49.5 L913.4 50.7 L913.5 51.8 L913.5 52.9 L913.2 54.0 L912.8 54.9 L912.2 55.8 L911.5 56.4 L910.7 56.9 L909.9 57.3 L909.1 57.5 L908.3 57.5 L907.5 57.4 L906.8 57.1 L906.2 56.7 L905.8 56.3 L905.4 55.8 L905.2 55.3 L905.0 54.7 L905.0 54.2 L905.1 53.8 L905.3 53.4 L905.6 53.0 L905.8 52.8 L906.2 52.7" stroke-width="2.7"/><path d="M897.9 34.8q6.2 11.0 23.6 3.3" stroke-width="3.3"/><path d="M942.6 14.0 L944.9 15.4 L946.9 17.1 L948.6 19.2 L949.8 21.5 L950.5 23.8 L950.9 26.3 L950.8 28.7 L950.2 30.9 L949.3 33.0 L948.1 34.9 L946.6 36.5 L944.9 37.7 L943.0 38.6 L941.1 39.1 L939.2 39.3 L937.3 39.1 L935.5 38.6 L933.9 37.9 L932.5 36.8 L931.4 35.6 L930.5 34.2 L929.9 32.8 L929.6 31.3 L929.5 29.9 L929.8 28.5 L930.2 27.2 L930.9 26.1 L931.7 25.2 L932.6 24.4 L933.7 23.9 L934.7 23.6 L935.7 23.5 L936.7 23.6 L937.5 23.9 L938.3 24.3 L938.9 24.8 L939.4 25.4 L939.7 26.1 L939.9 26.7 L939.9 27.3 L939.8 27.9 L939.6 28.4 L939.3 28.7" stroke-width="2.8"/><path d="M948.9 48.7q13.8 8.8 18.9 6.3" stroke-width="3.4"/></g></svg>
<span class="h" style="left:26.3px;top:26px;width:40px">Место</span>
<span class="h" style="left:94.2px;top:26px;text-align:left">Страна</span>
<span class="medal" style="left:506.4px;top:12px"><svg width="28" height="46" viewBox="0 0 28 46"><defs><linearGradient id="rb1" x1="0" y1="0" x2="0" y2="1"><stop offset="0" stop-color="#1c3796"/><stop offset="1" stop-color="#197c8e"/></linearGradient><radialGradient id="md1" cx="42%" cy="38%" r="65%"><stop offset="0" stop-color="#efbd4c"/><stop offset="1" stop-color="#e0a02c"/></radialGradient></defs><path d="M2.9 2.4H10L13.5 6.2L17 2.4H24.1L21 16.6H6.2Z" fill="url(#rb1)"/><path d="M10 2.4L13.5 6.2L17 2.4L18.2 16.6H8.8Z" fill="#000" opacity="0.14"/><rect x="4.8" y="16.2" width="17.2" height="1.5" rx="0.7" fill="#efe2b4"/><circle cx="14" cy="31" r="12.7" fill="#f2d584"/><circle cx="14" cy="31" r="11" fill="url(#md1)"/><path transform="translate(8.4 38) scale(0.009521 -0.009521)" d="M478 0V1170L140 959V1180L493 1409H759V0Z" fill="#f4d484"/></svg></span>
<span class="medal" style="left:583.6px;top:12px"><svg width="28" height="46" viewBox="0 0 28 46"><defs><linearGradient id="rb2" x1="0" y1="0" x2="0" y2="1"><stop offset="0" stop-color="#a3124f"/><stop offset="1" stop-color="#c21c62"/></linearGradient><radialGradient id="md2" cx="42%" cy="38%" r="65%"><stop offset="0" stop-color="#c2c4ca"/><stop offset="1" stop-color="#a4a6ae"/></radialGradient></defs><path d="M2.9 2.4H10L13.5 6.2L17 2.4H24.1L21 16.6H6.2Z" fill="url(#rb2)"/><path d="M10 2.4L13.5 6.2L17 2.4L18.2 16.6H8.8Z" fill="#000" opacity="0.14"/><rect x="4.8" y="16.2" width="17.2" height="1.5" rx="0.7" fill="#dcdde3"/><circle cx="14" cy="31" r="12.7" fill="#d8dae0"/><circle cx="14" cy="31" r="11" fill="url(#md2)"/><text x="14" y="38" font-family="Liberation Sans, sans-serif" font-weight="bold" font-size="19.5" text-anchor="middle" fill="#ececf0">2</text></svg></span>
<span class="medal" style="left:659.8px;top:12px"><svg width="28" height="46" viewBox="0 0 28 46"><defs><linearGradient id="rb3" x1="0" y1="0" x2="0" y2="1"><stop offset="0" stop-color="#10953f"/><stop offset="1" stop-color="#25a44a"/></linearGradient><radialGradient id="md3" cx="42%" cy="38%" r="65%"><stop offset="0" stop-color="#cf7a54"/><stop offset="1" stop-color="#b85c3a"/></radialGradient></defs><path d="M2.9 2.4H10L13.5 6.2L17 2.4H24.1L21 16.6H6.2Z" fill="url(#rb3)"/><path d="M10 2.4L13.5 6.2L17 2.4L18.2 16.6H8.8Z" fill="#000" opacity="0.14"/><rect x="4.8" y="16.2" width="17.2" height="1.5" rx="0.7" fill="#e8b79c"/><circle cx="14" cy="31" r="12.7" fill="#eaa584"/><circle cx="14" cy="31" r="11" fill="url(#md3)"/><text x="14" y="38" font-family="Liberation Sans, sans-serif" font-weight="bold" font-size="19.5" text-anchor="middle" fill="#f0c6b1">3</text></svg></span>
<span class="h" style="left:731.3px;top:26px;width:60px">Всего</span>
<span class="h" style="left:805.3px;top:14px;width:100px;line-height:20.5px">Итоговый<br>рейтинг</span>
</div>
<div class="row hov" style="top:72.4px;height:47.4px">
<div class="in" style="top:1.0999999999999943px">
<span class="rank"><span class="o">1</span></span>
<span class="flag"><svg width="44.5" height="30" viewBox="0 0 45 30" preserveAspectRatio="none"><rect width="45" height="30" fill="#fff"/><rect y="10" width="45" height="10" fill="#0a3fa8"/><rect y="20" width="45" height="10" fill="#d52b1e"/></svg></span>
<span class="name">Россия</span>
<span class="num" style="left:492px">8<span class="p">1</span></span>
<span class="num" style="left:569px">2<span class="p">1</span></span>
<span class="num" style="left:646px">29</span>
<span class="tot" style="left:721.6px"><span class="o">1</span>3<span class="o">1</span></span>
<span class="tot" style="left:815.3px"><span class="o">1</span></span>
<span class="go"><svg width="18" height="18" viewBox="0 0 18 18"><circle cx="9" cy="9" r="8.6" fill="#3b4ce2"/><path d="M4.7 9H12.4M8.9 5L12.9 9L8.9 13" fill="none" stroke="#fff" stroke-width="2.1" stroke-linecap="round" stroke-linejoin="round"/></svg></span>
</div></div>
<div class="row alt" style="top:120.2px;height:47.2px">
<div class="in" style="top:0.7999999999999972px">
<span class="rank">2</span>
<span class="flag"><svg width="44.5" height="30" viewBox="0 0 45 30" preserveAspectRatio="none"><rect width="45" height="30" fill="#fff"/><rect width="45" height="9.9" fill="#1565d4"/><rect y="9.9" width="45" height="0.7" fill="#e2a9a3"/><rect y="19.5" width="45" height="0.7" fill="#e2a9a3"/><rect y="20.2" width="45" height="9.8" fill="#4fa81f"/><circle cx="7.2" cy="5" r="3.5" fill="#fff"/><circle cx="8.7" cy="5" r="3" fill="#1565d4"/><rect x="20.05" y="1.55" width="1.1" height="1.1" fill="#cfe0f7"/><rect x="17.70" y="1.55" width="1.1" height="1.1" fill="#cfe0f7"/><rect x="15.35" y="1.55" width="1.1" height="1.1" fill="#cfe0f7"/><rect x="20.05" y="4.45" width="1.1" height="1.1" fill="#cfe0f7"/><rect x="17.70" y="4.45" width="1.1" height="1.1" fill="#cfe0f7"/><rect x="15.35" y="4.45" width="1.1" height="1.1" fill="#cfe0f7"/><rect x="13.00" y="4.45" width="1.1" height="1.1" fill="#cfe0f7"/><rect x="20.05" y="7.35" width="1.1" height="1.1" fill="#cfe0f7"/><rect x="17.70" y="7.35" width="1.1" height="1.1" fill="#cfe0f7"/><rect x="15.35" y="7.35" width="1.1" height="1.1" fill="#cfe0f7"/><rect x="13.00" y="7.35" width="1.1" height="1.1" fill="#cfe0f7"/><rect x="10.65" y="7.35" width="1.1" height="1.1" fill="#cfe0f7"/></svg></span>
<span class="name">Узбекистан</span>
<span class="num" style="left:492px"><span class="p">1</span>7</span>
<span class="num" style="left:569px">26</span>
<span class="num" style="left:646px">24</span>
<span class="tot" style="left:721.6px">67</span>
<span class="tot" style="left:815.3px">3</span>
<span class="go"><svg width="18" height="18" viewBox="0 0 18 18"><circle cx="9" cy="9" r="8.6" fill="#3b4ce2"/><path d="M4.7 9H12.4M8.9 5L12.9 9L8.9 13" fill="none" stroke="#fff" stroke-width="2.1" stroke-linecap="round" stroke-linejoin="round"/></svg></span>
</div></div>
<div class="row" style="top:167.7px;height:47.2px">
<div class="in" style="top:0.8000000000000114px">
<span class="rank">3</span>
<span class="flag"><svg width="44.5" height="30" viewBox="0 0 45 30" preserveAspectRatio="none"><rect width="45" height="10" fill="#1e8fd8"/><rect y="10" width="45" height="10.8" fill="#f20a2e"/><rect y="20.8" width="45" height="9.2" fill="#0aa65c"/><circle cx="20.6" cy="15.5" r="4.7" fill="#fff"/><circle cx="21.9" cy="15.5" r="3.9" fill="#f20a2e"/><polygon points="26.30,13.30 26.76,14.39 27.86,13.94 27.41,15.04 28.50,15.50 27.41,15.96 27.86,17.06 26.76,16.61 26.30,17.70 25.84,16.61 24.74,17.06 25.19,15.96 24.10,15.50 25.19,15.04 24.74,13.94 25.84,14.39" fill="#fff"/></svg></span>
<span class="name">Азербайджан</span>
<span class="num" style="left:492px"><span class="p">1</span>2</span>
<span class="num" style="left:569px">9</span>
<span class="num" style="left:646px"><span class="p">1</span>8</span>
<span class="tot" style="left:721.6px">39</span>
<span class="tot" style="left:815.3px">5</span>
<span class="go"><svg width="18" height="18" viewBox="0 0 18 18"><circle cx="9" cy="9" r="8.6" fill="#3b4ce2"/><path d="M4.7 9H12.4M8.9 5L12.9 9L8.9 13" fill="none" stroke="#fff" stroke-width="2.1" stroke-linecap="round" stroke-linejoin="round"/></svg></span>
</div></div>
<div class="row alt" style="top:215.2px;height:47.2px">
<div class="in" style="top:0.8000000000000114px">
<span class="rank">4</span>
<span class="flag"><svg width="44.5" height="30" viewBox="0 0 45 30" preserveAspectRatio="none"><rect width="45" height="30" fill="#04a9c9"/><rect x="1.8" y="1.4" width="3.2" height="27.2" fill="#6fd36b"/><rect x="2.6" y="2.2" width="1.6" height="1.5" fill="#9be05a"/><rect x="2.6" y="5.2" width="1.6" height="1.5" fill="#9be05a"/><rect x="2.6" y="8.2" width="1.6" height="1.5" fill="#9be05a"/><rect x="2.6" y="11.2" width="1.6" height="1.5" fill="#9be05a"/><rect x="2.6" y="14.2" width="1.6" height="1.5" fill="#9be05a"/><rect x="2.6" y="17.2" width="1.6" height="1.5" fill="#9be05a"/><rect x="2.6" y="20.2" width="1.6" height="1.5" fill="#9be05a"/><rect x="2.6" y="23.2" width="1.6" height="1.5" fill="#9be05a"/><rect x="2.6" y="26.2" width="1.6" height="1.5" fill="#9be05a"/><circle cx="22.7" cy="12.4" r="6.2" fill="#6fd38a" opacity="0.75"/><circle cx="22.7" cy="12.4" r="3.9" fill="#ffd81a"/><path d="M13.2 14.2 C13.6 19.4 17.6 23.6 22.7 23.6 C27.8 23.6 31.8 19.4 32.2 14.2 C30.6 18.4 27.2 20.6 22.7 20.6 C18.2 20.6 14.8 18.4 13.2 14.2Z" fill="#7fdc86"/><path d="M16.5 19.2 C18.6 21 20.6 21.8 22.7 21.8 C24.8 21.8 26.8 21 28.9 19.2" fill="none" stroke="#c5ea55" stroke-width="1"/></svg></span>
<span class="name">Казахстан</span>
<span class="num" style="left:492px"><span class="p">1</span><span class="p">1</span></span>
<span class="num" style="left:569px">29</span>
<span class="num" style="left:646px">39</span>
<span class="tot" style="left:721.6px">79</span>
<span class="tot" style="left:815.3px">2</span>
<span class="go"><svg width="18" height="18" viewBox="0 0 18 18"><circle cx="9" cy="9" r="8.6" fill="#3b4ce2"/><path d="M4.7 9H12.4M8.9 5L12.9 9L8.9 13" fill="none" stroke="#fff" stroke-width="2.1" stroke-linecap="round" stroke-linejoin="round"/></svg></span>
</div></div>
<div class="row" style="top:262.7px;height:47.2px">
<div class="in" style="top:0.8000000000000114px">
<span class="rank">5</span>
<span class="flag"><svg width="44.5" height="30" viewBox="0 0 45 30" preserveAspectRatio="none"><rect width="45" height="20.4" fill="#d2151f"/><rect y="20.4" width="45" height="9.6" fill="#04883e"/><rect width="5.6" height="30" fill="#fff"/><path d="M2.8 0.0L5.4 2.5L2.8 5.0L0.2 2.5ZM2.8 5.0L5.4 7.5L2.8 10.0L0.2 7.5ZM2.8 10.0L5.4 12.5L2.8 15.0L0.2 12.5ZM2.8 15.0L5.4 17.5L2.8 20.0L0.2 17.5ZM2.8 20.0L5.4 22.5L2.8 25.0L0.2 22.5ZM2.8 25.0L5.4 27.5L2.8 30.0L0.2 27.5Z" fill="#cf2a34"/><path d="M2.8 1.5L3.9 2.5L2.8 3.5L1.7 2.5ZM2.8 6.5L3.9 7.5L2.8 8.5L1.7 7.5ZM2.8 11.5L3.9 12.5L2.8 13.5L1.7 12.5ZM2.8 16.5L3.9 17.5L2.8 18.5L1.7 17.5ZM2.8 21.5L3.9 22.5L2.8 23.5L1.7 22.5ZM2.8 26.5L3.9 27.5L2.8 28.5L1.7 27.5Z" fill="#fbe9ea"/><rect x="0" width="0.7" height="30" fill="#d9606a"/><rect x="4.9" width="0.7" height="30" fill="#d9606a"/></svg></span>
<span class="name">Беларусь</span>
<span class="num" style="left:492px">6</span>
<span class="num" style="left:569px">2<span class="p">1</span></span>
<span class="num" style="left:646px"><span class="p">1</span>7</span>
<span class="tot" style="left:721.6px">44</span>
<span class="tot" style="left:815.3px">4</span>
<span class="go"><svg width="18" height="18" viewBox="0 0 18 18"><circle cx="9" cy="9" r="8.6" fill="#3b4ce2"/><path d="M4.7 9H12.4M8.9 5L12.9 9L8.9 13" fill="none" stroke="#fff" stroke-width="2.1" stroke-linecap="round" stroke-linejoin="round"/></svg></span>
</div></div>
<div class="row alt" style="top:310.2px;height:47.2px">
<div class="in" style="top:0.8000000000000114px">
<span class="rank">6</span>
<span class="flag"><svg width="44.5" height="30" viewBox="0 0 45 30" preserveAspectRatio="none"><defs><radialGradient id="kgs" cx="50%" cy="50%" r="50%"><stop offset="0.55" stop-color="#ffb31a"/><stop offset="0.8" stop-color="#fb6a2a"/><stop offset="1" stop-color="#f52d3a"/></radialGradient></defs><rect width="45" height="30" fill="#f52d3a"/><circle cx="22.6" cy="14.5" r="8.4" fill="url(#kgs)"/><circle cx="22.6" cy="14.5" r="5.2" fill="#ffc60f"/><circle cx="22.6" cy="14.5" r="3.9" fill="none" stroke="#e8781a" stroke-width="0.9"/><circle cx="22.6" cy="14.5" r="2" fill="#f0921a"/><path d="M20.9 13.5C22 14.3 23.2 14.3 24.3 13.5M20.9 15.5C22 14.7 23.2 14.7 24.3 15.5" stroke="#d9481f" stroke-width="0.7" fill="none"/></svg></span>
<span class="name">Кыргызстан</span>
<span class="num" style="left:492px">2</span>
<span class="num" style="left:569px"><span class="p">1</span>0</span>
<span class="num" style="left:646px">24</span>
<span class="tot" style="left:721.6px">36</span>
<span class="tot" style="left:815.3px">6</span>
<span class="go"><svg width="18" height="18" viewBox="0 0 18 18"><circle cx="9" cy="9" r="8.6" fill="#3b4ce2"/><path d="M4.7 9H12.4M8.9 5L12.9 9L8.9 13" fill="none" stroke="#fff" stroke-width="2.1" stroke-linecap="round" stroke-linejoin="round"/></svg></span>
</div></div>
<div class="row" style="top:357.7px;height:47.2px">
<div class="in" style="top:0.8000000000000114px">
<span class="rank">7</span>
<span class="flag"><svg width="44.5" height="30" viewBox="0 0 45 30" preserveAspectRatio="none"><rect width="45" height="30" fill="#fff"/><rect width="45" height="8.5" fill="#e9003f"/><rect y="21.8" width="45" height="8.2" fill="#04953c"/><path d="M19.4 19.6H25.8V18.4H19.4Z" fill="#f3dc7a"/><path d="M20 18.2C20.4 16.8 21.4 16.2 22.6 16.2C23.8 16.2 24.8 16.8 25.2 18.2Z" fill="#f6e6a0"/><polygon points="22.60,13.30 22.84,13.88 23.46,13.92 22.98,14.32 23.13,14.93 22.60,14.60 22.07,14.93 22.22,14.32 21.74,13.92 22.36,13.88" fill="#c9a437"/><circle cx="18.88" cy="15.60" r="0.45" fill="#ead9a0"/><circle cx="20.45" cy="14.28" r="0.45" fill="#ead9a0"/><circle cx="24.75" cy="14.28" r="0.45" fill="#ead9a0"/><circle cx="26.32" cy="15.60" r="0.45" fill="#ead9a0"/></svg></span>
<span class="name">Таджикистан</span>
<span class="num" style="left:492px">0</span>
<span class="num" style="left:569px">7</span>
<span class="num" style="left:646px">6</span>
<span class="tot" style="left:721.6px"><span class="o">1</span>3</span>
<span class="tot" style="left:815.3px">7</span>
<span class="go"><svg width="18" height="18" viewBox="0 0 18 18"><circle cx="9" cy="9" r="8.6" fill="#3b4ce2"/><path d="M4.7 9H12.4M8.9 5L12.9 9L8.9 13" fill="none" stroke="#fff" stroke-width="2.1" stroke-linecap="round" stroke-linejoin="round"/></svg></span>
</div></div>
<div class="row alt" style="top:405.2px;height:47.2px">
<div class="in" style="top:0.8000000000000114px">
<span class="rank">8</span>
<span class="flag"><svg width="44.5" height="30" viewBox="0 0 45 30" preserveAspectRatio="none"><rect width="45" height="10" fill="#e00012"/><rect y="10" width="45" height="9.7" fill="#0033a0"/><rect y="19.7" width="45" height="10.3" fill="#f8a800"/></svg></span>
<span class="name">Армения</span>
<span class="num" style="left:492px">0</span>
<span class="num" style="left:569px">5</span>
<span class="num" style="left:646px">7</span>
<span class="tot" style="left:721.6px"><span class="o">1</span>2</span>
<span class="tot" style="left:815.3px">8</span>
<span class="go"><svg width="18" height="18" viewBox="0 0 18 18"><circle cx="9" cy="9" r="8.6" fill="#3b4ce2"/><path d="M4.7 9H12.4M8.9 5L12.9 9L8.9 13" fill="none" stroke="#fff" stroke-width="2.1" stroke-linecap="round" stroke-linejoin="round"/></svg></span>
</div></div>
<div class="row" style="top:452.7px;height:47.2px">
<div class="in" style="top:0.8000000000000114px">
<span class="rank">9</span>
<span class="flag"><svg width="44.5" height="30" viewBox="0 0 45 30" preserveAspectRatio="none"><rect width="12" height="30" fill="#0046b5"/><rect x="12" width="20.6" height="30" fill="#ffd313"/><rect x="32.6" width="12.4" height="30" fill="#d1112d"/><path d="M22.4 6.6L23.6 8.4L23 9.6C24.6 10 25.6 9.2 26.2 7.6L28 7.2C28.8 10 28.6 13.4 27.6 16L28.2 19L26.4 18.4L25.8 20.4L24 19.4L22.4 22.6L20.8 19.4L19 20.4L18.4 18.4L16.6 19L17.2 16C16.2 13.4 16 10 16.8 7.2L18.6 7.6C19.2 9.2 20.2 10 21.8 9.6L21.2 8.4Z" fill="#7b4a22"/><path d="M20 11.6H24.8V15.6C24.8 17.4 23.6 18.4 22.4 19C21.2 18.4 20 17.4 20 15.6Z" fill="#b23a2c"/><path d="M20 15.2H24.8V15.6C24.8 17.4 23.6 18.4 22.4 19C21.2 18.4 20 17.4 20 15.6Z" fill="#3a5aa6"/><circle cx="22.4" cy="14.6" r="1.1" fill="#e8c24a"/></svg></span>
<span class="name">Молдова</span>
<span class="num" style="left:492px">0</span>
<span class="num" style="left:569px"><span class="p">1</span></span>
<span class="num" style="left:646px">9</span>
<span class="tot" style="left:721.6px"><span class="o">1</span>0</span>
<span class="tot" style="left:815.3px">9</span>
<span class="go"><svg width="18" height="18" viewBox="0 0 18 18"><circle cx="9" cy="9" r="8.6" fill="#3b4ce2"/><path d="M4.7 9H12.4M8.9 5L12.9 9L8.9 13" fill="none" stroke="#fff" stroke-width="2.1" stroke-linecap="round" stroke-linejoin="round"/></svg></span>
</div></div>
</body></html>
